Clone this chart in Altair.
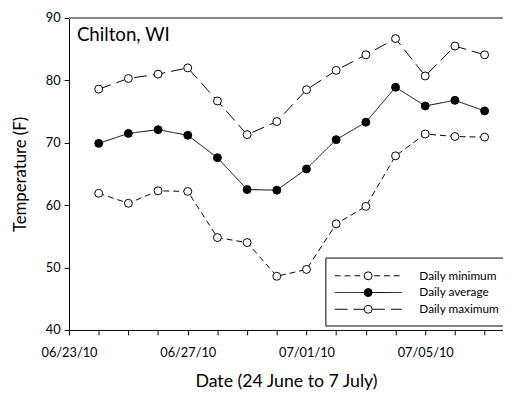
import altair as alt
import pandas as pd

# ---- data ----
days = list(range(1, 15))  # days after 06/23/10 (24 June .. 7 July)
daily_min = [61.9, 60.3, 62.3, 62.2, 54.8, 54.0, 48.6, 49.7, 57.0, 59.8, 67.9, 71.4, 71.0, 70.9]
daily_avg = [69.9, 71.5, 72.1, 71.2, 67.6, 62.5, 62.4, 65.8, 70.5, 73.3, 78.9, 75.9, 76.8, 75.1]
daily_max = [78.6, 80.3, 81.0, 82.0, 76.7, 71.3, 73.4, 78.5, 81.6, 84.1, 86.7, 80.7, 85.5, 84.1]
series_names = ["Daily minimum", "Daily average", "Daily maximum"]
tick_days = list(range(0, 15))
tick_label_days = [0, 4, 8, 12]
tick_labels = ["06/23/10", "06/27/10", "07/01/10", "07/05/10"]
y_ticks = [40, 50, 60, 70, 80, 90]

rows = []
for name, vals in zip(series_names, [daily_min, daily_avg, daily_max]):
    for d, v in zip(days, vals):
        rows.append({"series": name, "day": d, "temp": v})
df = pd.DataFrame(rows)

W, H = 441, 317
FONT = "Lato"
dashes = [[6, 4], [1, 0], [13, 6]]
fills = ["white", "black", "white"]
PT = 65

label_expr = "".join(
    f"datum.value == {d} ? '{l}' : " for d, l in zip(tick_label_days, tick_labels)
) + "''"

x_enc = alt.X(
    "day:Q",
    scale=alt.Scale(domain=[0, 14.62], nice=False, zero=False),
    axis=alt.Axis(
        values=tick_days, labelExpr=label_expr, title="Date (24 June to 7 July)",
        tickSize=5, labelPadding=12, titlePadding=13, labelFlush=False,
        titleFontSize=18,
    ),
)
y_enc = alt.Y(
    "temp:Q",
    scale=alt.Scale(domain=[40, 90], nice=False, zero=False),
    axis=alt.Axis(values=y_ticks, title="Temperature (F)", tickSize=5,
                  labelPadding=4, titlePadding=16, titleFontSize=17),
)

base = alt.Chart(df)
lines = base.mark_line(color="black", strokeWidth=1).encode(
    x=x_enc, y=y_enc,
    strokeDash=alt.StrokeDash("series:N", scale=alt.Scale(domain=series_names, range=dashes), legend=None),
)
points = base.mark_point(shape="circle", filled=True, stroke="black", strokeWidth=1, size=PT, opacity=1).encode(
    x=x_enc, y=y_enc,
    fill=alt.Fill("series:N", scale=alt.Scale(domain=series_names, range=fills), legend=None),
)

one = pd.DataFrame({"k": [0]})
top_frame = alt.Chart(one).mark_rule(color="#868686", strokeWidth=2).encode(
    x=alt.value(0), x2=alt.value(W), y=alt.value(0)
)
title = alt.Chart(one).mark_text(align="left", baseline="alphabetic", fontSize=19, font=FONT, color="black").encode(
    x=alt.value(8), y=alt.value(23), text=alt.value("Chilton, WI")
)

# legend box
legend_layers = [
    alt.Chart(one).mark_rect(fill="white", stroke="black", strokeWidth=1).encode(
        x=alt.value(261), x2=alt.value(470), y=alt.value(244), y2=alt.value(313)
    )
]
row_y = [262, 279, 296]
for name, dash, fill, yy in zip(series_names, dashes, fills, row_y):
    legend_layers.append(
        alt.Chart(one).mark_rule(color="black", strokeWidth=1, strokeDash=dash).encode(
            x=alt.value(270), x2=alt.value(338), y=alt.value(yy)
        )
    )
    legend_layers.append(
        alt.Chart(one).mark_point(shape="circle", filled=True, fill=fill, stroke="black",
                                  strokeWidth=1, size=PT, opacity=1).encode(
            x=alt.value(304), y=alt.value(yy)
        )
    )
    legend_layers.append(
        alt.Chart(one).mark_text(align="left", baseline="middle", fontSize=12, font=FONT, color="black").encode(
            x=alt.value(356), y=alt.value(yy), text=alt.value(name)
        )
    )

chart = alt.layer(lines, points, top_frame, title, *legend_layers).properties(
    width=W, height=H,
    autosize=alt.AutoSizeParams(type="none"),
    padding={"left": 62, "top": 7, "right": 0, "bottom": 64},
).configure_view(stroke=None).configure_axis(
    grid=False, domainColor="black", tickColor="black", labelColor="black",
    titleColor="black", labelFont=FONT, titleFont=FONT, labelFontSize=13,
    titleFontWeight="normal",
)

chart.save("out.html", embed_options={"renderer": "svg", "actions": False})
